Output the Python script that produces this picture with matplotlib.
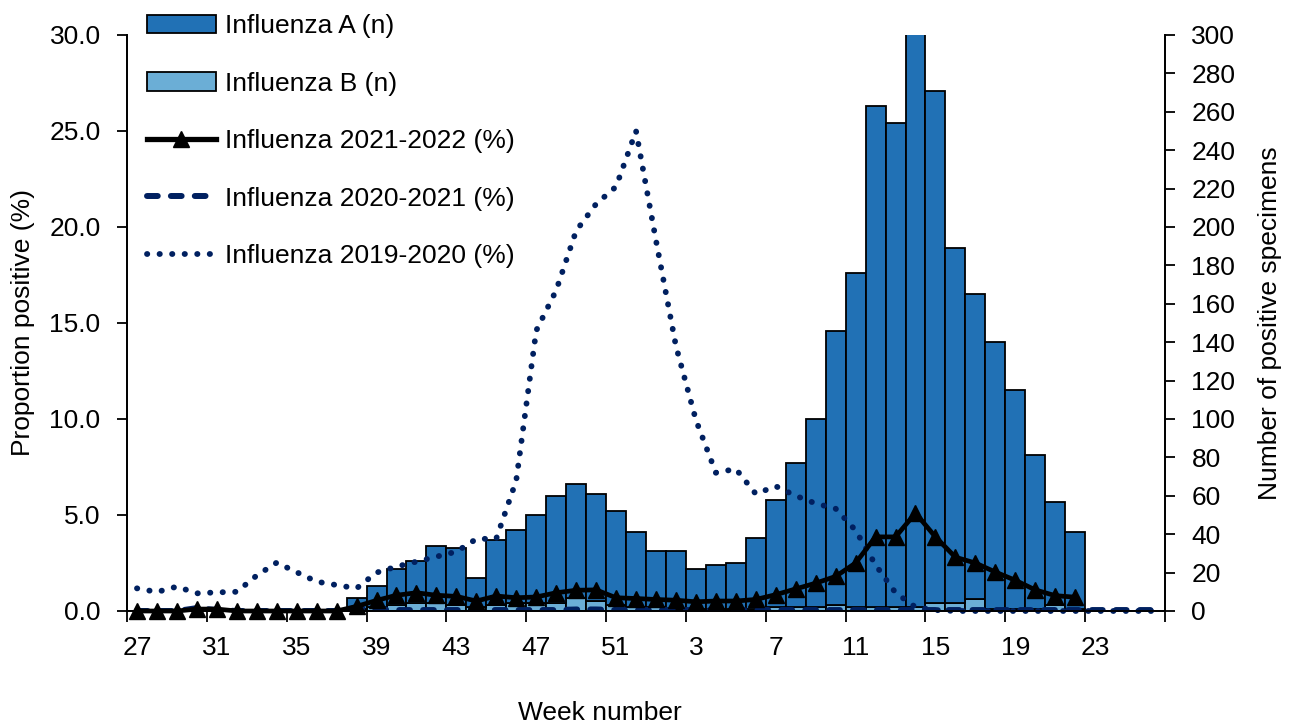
import matplotlib
matplotlib.use("Agg")
import matplotlib.pyplot as plt
import numpy as np
from matplotlib.patches import Patch
from matplotlib.lines import Line2D

plt.rcParams['font.family'] = ['Liberation Sans', 'DejaVu Sans']

weeks = list(range(27, 53)) + list(range(1, 27))

# total positive specimens per week (A + B stacked)
total_n = [0, 0, 0, 0, 0, 0, 0, 0, 0, 0, 0, 7, 13, 22, 26, 34, 33, 17, 37, 42,
           50, 60, 66, 61, 52, 41,
           31, 31, 22, 24, 25, 38, 58, 77, 100, 146, 176, 263, 254, 310, 271, 189,
           165, 140, 115, 81, 57, 41, 0, 0, 0, 0]
flu_b = [0, 0, 0, 0, 0, 0, 0, 0, 0, 0, 0, 1, 2, 3, 4, 4, 3, 2, 3, 4,
         4, 4, 7, 5, 3, 2,
         2, 1, 1, 1, 1, 1, 2, 2, 2, 3, 2, 2, 2, 2, 4, 4,
         6, 1, 1, 1, 3, 1, 0, 0, 0, 0]
flu_a = [t - b for t, b in zip(total_n, flu_b)]

pct_2122 = [0, 0, 0, 0.1, 0.1, 0, 0, 0, 0, 0, 0, 0.24, 0.55, 0.82, 0.95, 0.82, 0.76, 0.52, 0.78, 0.69,
            0.73, 0.95, 1.08, 1.1, 0.69, 0.65,
            0.6, 0.56, 0.48, 0.52, 0.52, 0.6, 0.85, 1.15, 1.45, 1.8, 2.5, 3.86, 3.86, 5.1, 3.86, 2.8,
            2.5, 2.03, 1.6, 1.1, 0.8, 0.72, np.nan, np.nan, np.nan, np.nan]
pct_2021 = [0, 0, 0, 0.15, 0.05, 0, 0, 0, 0, 0, 0, 0.15, 0.1, 0.05, 0.05, 0.05, 0.05, 0.05, 0.05, 0.05,
            0.05, 0.05, 0.08, 0.08, 0.05, 0.05,
            0.05, 0.05, 0.05, 0.05, 0.05, 0.05, 0.05, 0.05, 0.05, 0.05, 0.05, 0.05, 0.05, 0.05, 0.05, 0.05,
            0.05, 0.05, 0.05, 0.05, 0.05, 0.05, 0.05, 0.05, 0.05, 0.05]
pct_1920 = [1.18, 0.99, 1.27, 0.92, 0.97, 1.0, 1.85, 2.52, 2.02, 1.53, 1.35, 1.18, 2.0, 2.31, 2.57, 2.83,
            3.09, 3.75, 3.77, 6.8, 14.6, 16.7, 19.8, 21.2, 22.1, 25.0,
            19.3, 13.8, 9.95, 7.2, 7.4, 6.1, 6.5, 6.0, 5.6, 5.33, 4.2, 2.4, 0.95, 0.2, 0.05, 0,
            0, 0, 0, 0, 0, 0, 0, 0, 0, 0]

col_a = "#2171b5"
col_b = "#6baed6"
navy = "#002060"
fs = 19
dots = (0, (0.05, 2.1))
dashes = (0, (1.8, 2.2))

x = np.arange(len(weeks))

fig = plt.figure(figsize=(12.93, 7.26), dpi=100)
ax1 = fig.add_axes([127/1293, 1-611/726, (1165-127)/1293, (611-35)/726])
ax2 = ax1.twinx()

ax2.bar(x, flu_b, width=1.0, color=col_b, edgecolor="black", linewidth=1.3)
ax2.bar(x, flu_a, width=1.0, bottom=flu_b, color=col_a, edgecolor="black", linewidth=1.3)
ax2.set_ylim(0, 300)
ax2.set_yticks(range(0, 301, 20))
ax2.set_ylabel("Number of positive specimens", fontsize=fs, labelpad=16)

ax1.set_zorder(ax2.get_zorder() + 1)
ax1.patch.set_visible(False)
ax1.plot(x, pct_1920, color=navy, lw=4.2, linestyle=dots,
         dash_capstyle="round", clip_on=False)
ax1.plot(x, pct_2021, color=navy, lw=4.3, linestyle=dashes,
         dash_capstyle="round")
ax1.plot(x, pct_2122, color="black", lw=3.4, marker="^", markersize=11.5, clip_on=False)
ax1.set_ylim(0, 30)
ax1.set_xlim(-0.5, len(weeks) - 0.5)
ax1.set_yticks(np.arange(0, 30.1, 5))
ax1.set_yticklabels(["%.1f" % v for v in np.arange(0, 30.1, 5)])
ax1.set_ylabel("Proportion positive (%)", fontsize=fs, labelpad=10)

# labels at category centres, tick marks at category boundaries
ax1.set_xticks(x[::4])
ax1.set_xticklabels([str(weeks[i]) for i in x[::4]])
ax1.set_xticks(np.arange(-0.5, len(weeks), 4), minor=True)
ax1.tick_params(axis="x", which="major", length=0, pad=18, labelsize=fs)
ax1.tick_params(axis="x", which="minor", length=8, width=1.3, direction="out")
ax1.tick_params(axis="y", length=7, width=1.3, pad=12, labelsize=fs)
ax2.tick_params(axis="y", length=7, width=1.3, pad=12, labelsize=fs)

for a in (ax1, ax2):
    a.spines["top"].set_visible(False)
    for s in ("left", "right", "bottom"):
        a.spines[s].set_linewidth(1.3)

fig.text(600/1293, 1 - 713/726, "Week number", ha="center", va="center", fontsize=fs)

handles = [
    Patch(facecolor=col_a, edgecolor="black", linewidth=1.3),
    Patch(facecolor=col_b, edgecolor="black", linewidth=1.3),
    Line2D([], [], color="black", lw=3.8, marker="^", markersize=11.5),
    Line2D([], [], color=navy, lw=4.3, linestyle=dashes, dash_capstyle="round"),
    Line2D([], [], color=navy, lw=4.2, linestyle=dots, dash_capstyle="round"),
]
labels = ["Influenza A (n)", "Influenza B (n)", "Influenza 2021-2022 (%)",
          "Influenza 2020-2021 (%)", "Influenza 2019-2020 (%)"]
leg = fig.legend(handles, labels, loc="upper left", bbox_to_anchor=(147/1293, 1 - 14/726),
                 frameon=False, fontsize=fs, handlelength=2.6, handletextpad=0.35,
                 labelspacing=1.27, borderpad=0, borderaxespad=0)

fig.savefig("out.png", dpi=100)
